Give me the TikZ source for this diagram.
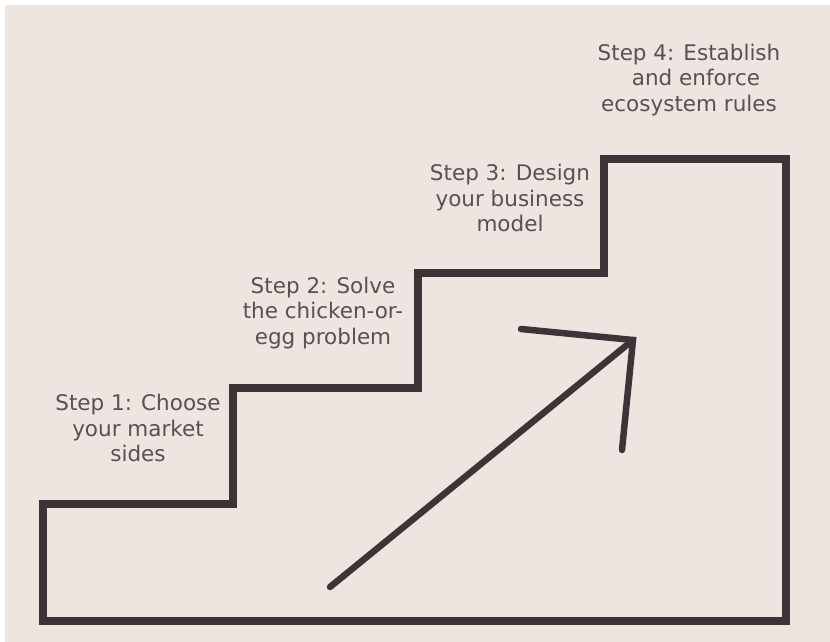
\documentclass[tikz,border=0pt]{standalone}
\usepackage{fontspec}
\setmainfont{DejaVu Sans}
\definecolor{paper}{HTML}{EDE5DF}
\definecolor{ink}{HTML}{3E3337}
\definecolor{labelgray}{HTML}{5B4F53}
\begin{document}
\begin{tikzpicture}[x=1pt,y=-1pt,
  stair/.style={draw=ink,line width=7.5pt,line join=miter},
  rise/.style={draw=ink,line width=6.5pt,line cap=round,line join=miter},
  steplabel/.style={text=labelgray,align=center,font=\fontsize{21.5}{25.5}\selectfont,inner sep=0pt}]
  % canvas
  \fill[white] (0,0) rectangle (830,642);
  \fill[paper] (5,5) rectangle (830,642);
  \useasboundingbox (0,0) rectangle (830,642);

  % staircase outline
  \coordinate (base-left) at (43,621);
  \coordinate (s1-front) at (43,504);
  \coordinate (s1-back) at (233,504);
  \coordinate (s2-front) at (233,388);
  \coordinate (s2-back) at (418,388);
  \coordinate (s3-front) at (418,273);
  \coordinate (s3-back) at (604,273);
  \coordinate (s4-front) at (604,159);
  \coordinate (s4-back) at (786,159);
  \coordinate (base-right) at (786,621);
  \draw[stair] (base-left) -- (s1-front) -- (s1-back) -- (s2-front) -- (s2-back)
    -- (s3-front) -- (s3-back) -- (s4-front) -- (s4-back) -- (base-right) -- cycle;

  % rising arrow
  \coordinate (tail) at (330,587);
  \coordinate (tip) at (633,340);
  \coordinate (barb-a) at (521,329);
  \coordinate (barb-b) at (622,450);
  \draw[rise] (tail) -- (tip);
  \draw[rise] (barb-a) -- (tip) -- (barb-b);

  % step labels
  \node[steplabel] (label1) at (138,428) {Step 1: Choose\\your market\\sides};
  \node[steplabel] (label2) at (323,313) {Step 2: Solve\\the chicken-or-\\egg problem};
  \node[steplabel] (label3) at (510,198) {Step 3: Design\\your business\\model};
  \node[steplabel] (label4) at (689,80) {Step 4: Establish\\\hspace*{14pt}and enforce\\ecosystem rules};
\end{tikzpicture}
\end{document}
